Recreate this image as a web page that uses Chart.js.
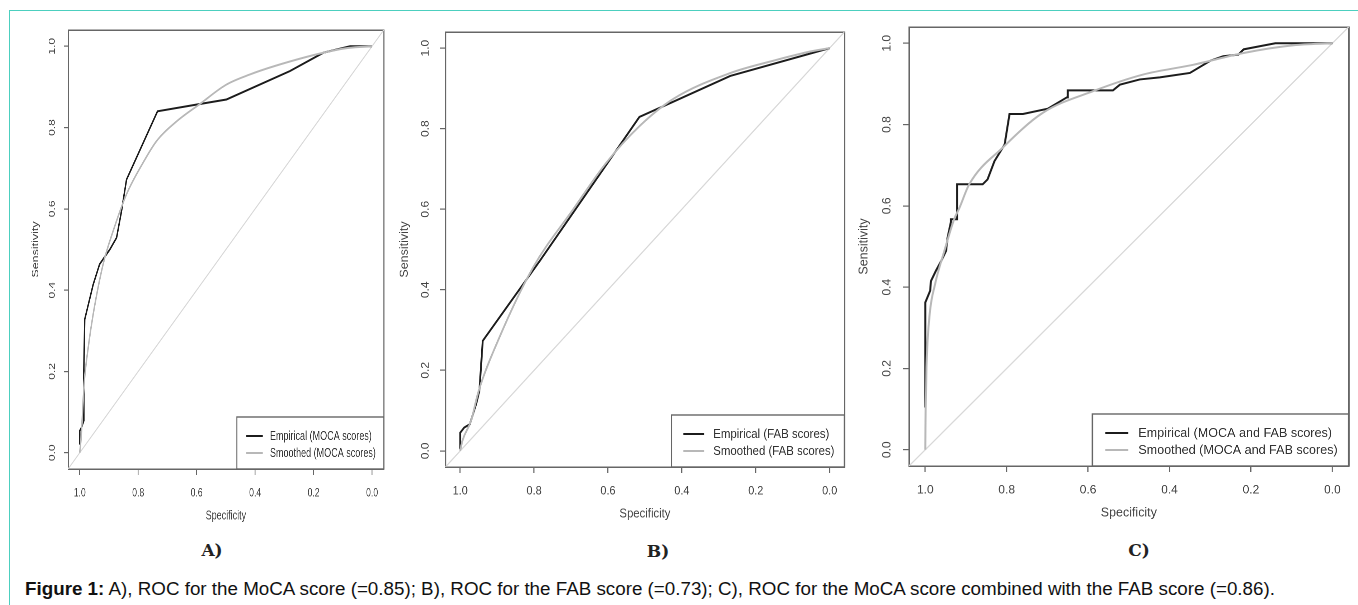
<!DOCTYPE html>
<html><head><meta charset="utf-8">
<script src="https://cdn.jsdelivr.net/npm/chart.js@4.4.1/dist/chart.umd.min.js"></script>
<style>
html,body{margin:0;padding:0;background:#fff;width:1358px;height:605px;overflow:hidden;font-family:"Liberation Sans",Arial,sans-serif;}
#frame{position:absolute;left:9px;top:10px;width:1360px;height:600px;border-top:1px solid #4ccfbf;border-left:1px solid #4ccfbf;}
.panel{position:absolute;transform-origin:0 0;}
.panel canvas{display:block;}
.letter{position:absolute;font-family:"DejaVu Serif",serif;font-weight:bold;font-size:17px;color:#222;transform:translate(-50%,-50%);white-space:nowrap;}
#caption{position:absolute;left:25px;top:579px;font-size:18.8px;line-height:20px;color:#111;white-space:nowrap;}
</style>
</head>
<body>
<div id="frame"></div>
<div class="panel" id="wrapA"><canvas id="cA"></canvas></div>
<div class="panel" id="wrapB"><canvas id="cB"></canvas></div>
<div class="panel" id="wrapC"><canvas id="cC"></canvas></div>
<div class="letter" id="letA"></div>
<div class="letter" id="letB"></div>
<div class="letter" id="letC"></div>
<div id="caption"><b>Figure 1:</b> A), ROC for the MoCA score (=0.85); B), ROC for the FAB score (=0.73); C), ROC for the MoCA score combined with the FAB score (=0.86).</div>
<script>
// ---------- data ----------
const tickValues = [0.0, 0.2, 0.4, 0.6, 0.8, 1.0];
const axisMin = -0.04, axisMax = 1.04;
const diagSpec = [1.04, -0.04];
const diagSens = [-0.04, 1.04];

const panelLetters = ['A)', 'B)', 'C)'];
const empiricalLabels = ['Empirical (MOCA scores)', 'Empirical (FAB scores)', 'Empirical (MOCA and FAB scores)'];
const smoothedLabels = ['Smoothed (MOCA scores)', 'Smoothed (FAB scores)', 'Smoothed (MOCA and FAB scores)'];

// A) MoCA
const mocaEmpSpec = [1.0, 1.0, 0.994, 0.986, 0.986, 0.983, 0.954, 0.932, 0.897, 0.874, 0.857, 0.840, 0.734, 0.589, 0.498, 0.281, 0.167, 0.098, 0.075, 0.0];
const mocaEmpSens = [0.02, 0.054, 0.062, 0.079, 0.201, 0.328, 0.414, 0.464, 0.500, 0.529, 0.595, 0.672, 0.840, 0.858, 0.869, 0.939, 0.984, 0.996, 1.0, 1.0];
const mocaSmSpec = [1.0, 0.995, 0.985, 0.971, 0.954, 0.92, 0.886, 0.84, 0.783, 0.737, 0.669, 0.589, 0.5, 0.42, 0.33, 0.167, 0.08, 0.0];
const mocaSmSens = [0.0, 0.04, 0.17, 0.259, 0.341, 0.464, 0.545, 0.636, 0.714, 0.767, 0.815, 0.858, 0.905, 0.93, 0.952, 0.984, 0.996, 1.0];

// B) FAB
const fabEmpSpec = [1.0, 1.0, 0.989, 0.974, 0.957, 0.948, 0.939, 0.785, 0.515, 0.423, 0.269, 0.0];
const fabEmpSens = [0.004, 0.045, 0.058, 0.066, 0.116, 0.149, 0.273, 0.471, 0.829, 0.867, 0.931, 1.0];
const fabSmSpec = [1.0, 0.994, 0.971, 0.95, 0.898, 0.803, 0.694, 0.604, 0.515, 0.423, 0.269, 0.151, 0.06, 0.0];
const fabSmSens = [0.0, 0.025, 0.074, 0.149, 0.273, 0.455, 0.6, 0.716, 0.806, 0.874, 0.938, 0.969, 0.99, 1.0];

// C) MoCA + FAB
const comboEmpSpec = [1.0, 1.0, 0.988, 0.986, 0.974, 0.961, 0.949, 0.945, 0.937, 0.937, 0.922, 0.922, 0.859, 0.847, 0.83, 0.805, 0.793, 0.76, 0.699, 0.652, 0.65, 0.539, 0.522, 0.473, 0.424, 0.35, 0.3, 0.268, 0.231, 0.218, 0.177, 0.14, 0.0];
const comboEmpSens = [0.104, 0.362, 0.391, 0.415, 0.44, 0.464, 0.489, 0.522, 0.56, 0.567, 0.567, 0.653, 0.653, 0.665, 0.71, 0.751, 0.826, 0.826, 0.839, 0.867, 0.884, 0.884, 0.898, 0.911, 0.916, 0.927, 0.957, 0.968, 0.972, 0.985, 0.993, 1.0, 1.0];
const comboSmSpec = [1.0, 0.999, 0.997, 0.99, 0.976, 0.953, 0.929, 0.916, 0.892, 0.81, 0.711, 0.588, 0.465, 0.342, 0.218, 0.095, 0.0];
const comboSmSens = [0.0, 0.1, 0.202, 0.325, 0.407, 0.489, 0.567, 0.595, 0.653, 0.743, 0.829, 0.882, 0.923, 0.947, 0.976, 0.995, 1.0];

// ---------- layout (actual px) ----------
const panels = [
  {canvas: 'cA', wrap: 'wrapA', letter: 'letA', boxLeft: 68.3, boxTop: 30, boxW: 315.7, boxH: 439, letterX: 212, letterY: 550,
   emp: [mocaEmpSpec, mocaEmpSens], sm: [mocaSmSpec, mocaSmSens]},
  {canvas: 'cB', wrap: 'wrapB', letter: 'letB', boxLeft: 445.3, boxTop: 32, boxW: 399, boxH: 435, letterX: 658, letterY: 551,
   emp: [fabEmpSpec, fabEmpSens], sm: [fabSmSpec, fabSmSens]},
  {canvas: 'cC', wrap: 'wrapC', letter: 'letC', boxLeft: 909.3, boxTop: 27, boxW: 439.7, boxH: 439, letterX: 1139, letterY: 550,
   emp: [comboEmpSpec, comboEmpSens], sm: [comboSmSpec, comboSmSens]}
];
const LOG_BOX_W = 440, Y_AXIS_W = 60, PAD_TOP = 10, PAD_RIGHT = 8, X_AXIS_H = 62;
const FONT = '"Liberation Sans", Arial, sans-serif';
Chart.defaults.font.family = FONT;

const toPts = (xs, ys) => xs.map((v, i) => ({x: v, y: ys[i]}));

const rocLegend = {
  id: 'rocLegend',
  afterDatasetsDraw(chart, args, opts) {
    const {ctx, chartArea} = chart;
    const items = chart.data.datasets.filter(d => d.label);
    ctx.save();
    ctx.font = opts.font;
    const tw = Math.max(...items.map(d => ctx.measureText(d.label).width));
    const w = 13 + 23 + 10 + tw + 11, h = 52;
    const x0 = chartArea.right - w, y0 = chartArea.bottom - h;
    ctx.fillStyle = '#fff';
    ctx.fillRect(x0, y0, w, h);
    ctx.strokeStyle = '#666';
    ctx.lineWidth = 1.4;
    ctx.strokeRect(x0, y0, w, h);
    items.forEach((d, i) => {
      const y = y0 + 19 + i * 17;
      ctx.strokeStyle = d.borderColor;
      ctx.lineWidth = d.borderWidth;
      ctx.beginPath(); ctx.moveTo(x0 + 13, y); ctx.lineTo(x0 + 36, y); ctx.stroke();
      ctx.fillStyle = '#333';
      ctx.textBaseline = 'middle';
      ctx.textAlign = 'left';
      ctx.fillText(d.label, x0 + 46, y + 0.5);
    });
    ctx.restore();
  }
};

const fixedTicks = sc => { sc.ticks = tickValues.map(v => ({value: v})); };
const gridOpts = {display: true, drawOnChartArea: false, drawTicks: true, tickLength: 6, color: '#666', lineWidth: 1.2};
const borderOpts = {display: true, color: '#666', width: 1.5};

panels.forEach((p, k) => {
  const s = p.boxW / LOG_BOX_W;
  const W = Y_AXIS_W + LOG_BOX_W + PAD_RIGHT;
  const H = PAD_TOP + p.boxH + X_AXIS_H;
  const wrap = document.getElementById(p.wrap);
  wrap.style.left = (p.boxLeft - Y_AXIS_W * s) + 'px';
  wrap.style.top = (p.boxTop - PAD_TOP) + 'px';
  wrap.style.width = W + 'px';
  wrap.style.height = H + 'px';
  wrap.style.transform = 'scaleX(' + s + ')';
  const cv = document.getElementById(p.canvas);
  cv.width = W; cv.height = H;
  cv.style.width = W + 'px'; cv.style.height = H + 'px';

  const let_ = document.getElementById(p.letter);
  let_.textContent = panelLetters[k];
  let_.style.left = p.letterX + 'px';
  let_.style.top = p.letterY + 'px';

  new Chart(cv, {
    type: 'scatter',
    data: {
      datasets: [
        {label: empiricalLabels[k], data: toPts(p.emp[0], p.emp[1]), showLine: true, borderColor: '#1c1c1c', borderWidth: 2, pointRadius: 0, tension: 0, order: 1},
        {label: smoothedLabels[k], data: toPts(p.sm[0], p.sm[1]), showLine: true, borderColor: '#b8b8b8', borderWidth: 2, pointRadius: 0, cubicInterpolationMode: 'monotone', order: 0},
        {label: '', data: toPts(diagSpec, diagSens), showLine: true, borderColor: '#d8d8d8', borderWidth: 1.3, pointRadius: 0, tension: 0, order: 2}
      ]
    },
    plugins: [rocLegend],
    options: {
      responsive: false, animation: false, devicePixelRatio: 2,
      layout: {padding: {left: 0, top: PAD_TOP, right: PAD_RIGHT, bottom: 0}},
      plugins: {legend: {display: false}, tooltip: {enabled: false}, rocLegend: {font: '12.6px ' + FONT}},
      scales: {
        x: {
          type: 'linear', position: 'bottom', reverse: true, min: axisMin, max: axisMax,
          afterBuildTicks: fixedTicks,
          afterFit: sc => { sc.height = X_AXIS_H; sc.paddingLeft = 0; sc.paddingRight = 0; },
          grid: gridOpts, border: borderOpts,
          ticks: {autoSkip: false, color: '#444', font: {size: 12}, padding: 10.8, minRotation: 0, maxRotation: 0, callback: v => Number(v).toFixed(1)},
          title: {display: true, text: 'Specificity', color: '#444', font: {size: 12.5}, padding: {top: 0, bottom: 7.5}}
        },
        y: {
          type: 'linear', position: 'left', min: axisMin, max: axisMax,
          afterBuildTicks: fixedTicks,
          afterFit: sc => { sc.width = Y_AXIS_W; sc.paddingTop = 0; sc.paddingBottom = 0; },
          grid: gridOpts, border: borderOpts,
          ticks: {autoSkip: false, color: '#444', font: {size: 12}, padding: 7.7, minRotation: 90, maxRotation: 90, crossAlign: 'center', callback: v => Number(v).toFixed(1)},
          title: {display: true, text: 'Sensitivity', color: '#444', font: {size: 12.5}, padding: {top: 7.5, bottom: 0}}
        },
        x2: {
          type: 'linear', position: 'top', min: axisMin, max: axisMax,
          afterFit: sc => { sc.height = 0; sc.paddingLeft = 0; sc.paddingRight = 0; },
          ticks: {display: false}, grid: {display: true, drawOnChartArea: false, drawTicks: false}, border: borderOpts
        },
        y2: {
          type: 'linear', position: 'right', min: axisMin, max: axisMax,
          afterFit: sc => { sc.width = 0; sc.paddingTop = 0; sc.paddingBottom = 0; },
          ticks: {display: false}, grid: {display: true, drawOnChartArea: false, drawTicks: false}, border: borderOpts
        }
      }
    }
  });
});
</script>
</body></html>
